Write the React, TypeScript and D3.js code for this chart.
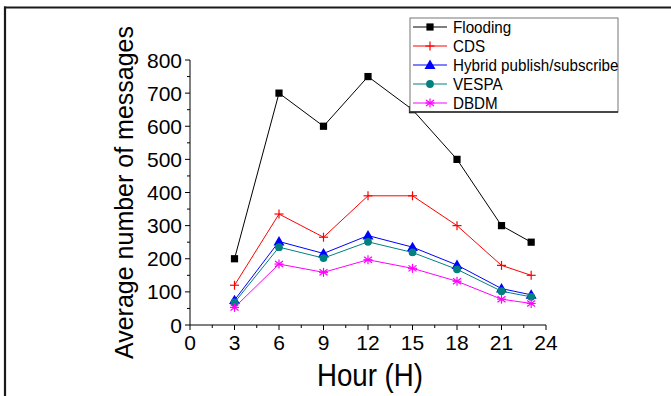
import React from "react";
import * as d3 from "d3";

const hours = [3, 6, 9, 12, 15, 18, 21, 23];
const flooding = [200, 700, 600, 750, 650, 500, 300, 250];
const cds = [120, 335, 265, 390, 390, 300, 180, 150];
const hybrid = [75, 252, 216, 270, 235, 181, 110, 91];
const vespa = [68, 235, 202, 251, 219, 168, 102, 85];
const dbdm = [53, 184, 159, 197, 171, 132, 78, 65];
const seriesNames = ["Flooding", "CDS", "Hybrid publish/subscribe", "VESPA", "DBDM"];
const xTicks = [0, 3, 6, 9, 12, 15, 18, 21, 24];
const yTicks = [0, 100, 200, 300, 400, 500, 600, 700, 800];

const FONT = "'Liberation Sans', Arial, Helvetica, sans-serif";

type Kind = "square" | "plus" | "triangle" | "circle" | "star";

function Marker({ kind, x, y, color }: { kind: Kind; x: number; y: number; color: string }) {
  if (kind === "square") return <rect x={x - 3.6} y={y - 3.6} width={7.2} height={7.2} fill={color} />;
  if (kind === "plus")
    return (
      <g stroke={color} strokeWidth={1.2}>
        <line x1={x - 4.5} x2={x + 4.5} y1={y} y2={y} />
        <line x1={x} x2={x} y1={y - 4.5} y2={y + 4.5} />
      </g>
    );
  if (kind === "triangle") {
    const p = d3.symbol(d3.symbolTriangle, 52)()!;
    return <path d={p} transform={`translate(${x},${y + 0.8})`} fill={color} />;
  }
  if (kind === "circle") return <circle cx={x} cy={y} r={3.9} fill={color} />;
  return (
    <g stroke={color} strokeWidth={1.2}>
      <line x1={x} x2={x} y1={y - 4.5} y2={y + 4.5} />
      <line x1={x - 4} x2={x + 4} y1={y - 3} y2={y + 3} />
      <line x1={x - 4} x2={x + 4} y1={y + 3} y2={y - 3} />
      <line x1={x - 4.5} x2={x + 4.5} y1={y} y2={y} />
    </g>
  );
}

export default function App() {
  const x = d3.scaleLinear().domain([0, 24]).range([190, 546]);
  const y = d3.scaleLinear().domain([0, 800]).range([325, 60]);
  const series: { name: string; values: number[]; color: string; kind: Kind }[] = [
    { name: seriesNames[0], values: flooding, color: "#000000", kind: "square" },
    { name: seriesNames[1], values: cds, color: "#ff0000", kind: "plus" },
    { name: seriesNames[2], values: hybrid, color: "#0000ff", kind: "triangle" },
    { name: seriesNames[3], values: vespa, color: "#008080", kind: "circle" },
    { name: seriesNames[4], values: dbdm, color: "#ff00ff", kind: "star" },
  ];
  const line = d3
    .line<number>()
    .x((_, i) => x(hours[i]))
    .y((d) => y(d));
  const yMinor = d3.range(50, 800, 100);
  const xMinor = d3.range(1.5, 24, 3);
  const legX = 410;
  const legY = 18;
  const legW = 208;
  const legH = 94;
  const rowY = [27, 46, 65, 84, 103];

  return (
    <svg
      width={671}
      height={396}
      style={{ position: "absolute", left: 0, top: 0, background: "#fff" }}
      fontFamily={FONT}
    >
      <rect x={0} y={0} width={671} height={396} fill="#fff" />
      {/* outer frame */}
      <line x1={4} x2={671} y1={7.5} y2={7.5} stroke="#1a1a1a" strokeWidth={2.2} />
      <line x1={5} x2={5} y1={6.5} y2={396} stroke="#1a1a1a" strokeWidth={2.2} />

      {/* axes */}
      <line x1={x(0)} x2={x(24)} y1={y(0)} y2={y(0)} stroke="#000" strokeWidth={1} />
      <line x1={x(0)} x2={x(0)} y1={y(0)} y2={y(800)} stroke="#000" strokeWidth={1} />
      {yTicks.map((t) => (
        <g key={"yt" + t}>
          <line x1={x(0) - 5} x2={x(0)} y1={y(t)} y2={y(t)} stroke="#000" />
          <text x={182} y={y(t)} dy="0.36em" textAnchor="end" fontSize={21}>
            {t}
          </text>
        </g>
      ))}
      {yMinor.map((t) => (
        <line key={"ym" + t} x1={x(0) - 3} x2={x(0)} y1={y(t)} y2={y(t)} stroke="#000" />
      ))}
      {xTicks.map((t) => (
        <g key={"xt" + t}>
          <line x1={x(t)} x2={x(t)} y1={y(0)} y2={y(0) + 5} stroke="#000" />
          <text x={x(t)} y={349.5} textAnchor="middle" fontSize={21}>
            {t}
          </text>
        </g>
      ))}
      {xMinor.map((t) => (
        <line key={"xm" + t} x1={x(t)} x2={x(t)} y1={y(0)} y2={y(0) + 3} stroke="#000" />
      ))}

      {/* axis titles */}
      <text x={370} y={386} textAnchor="middle" fontSize={32} textLength={106} lengthAdjust="spacingAndGlyphs">
        Hour (H)
      </text>
      <text
        transform={`translate(133,192.5) rotate(-90)`}
        textAnchor="middle"
        fontSize={26}
        textLength={333}
        lengthAdjust="spacingAndGlyphs"
      >
        Average number of messages
      </text>

      {/* series */}
      {series.map((s) => (
        <g key={s.name}>
          <path d={line(s.values)!} fill="none" stroke={s.color} strokeWidth={1} />
          {s.values.map((v, i) => (
            <Marker key={i} kind={s.kind} x={x(hours[i])} y={y(v)} color={s.color} />
          ))}
        </g>
      ))}

      {/* legend */}
      <rect x={legX} y={legY} width={legW} height={legH} fill="#fff" stroke="#777" strokeWidth={1} />
      <line x1={legX} x2={legX + legW} y1={legY + legH} y2={legY + legH} stroke="#222" strokeWidth={1.3} />
      {series.map((s, i) => (
        <g key={"leg" + s.name}>
          <line x1={413} x2={447} y1={rowY[i]} y2={rowY[i]} stroke={s.color} strokeWidth={1} />
          <Marker kind={s.kind} x={430} y={rowY[i]} color={s.color} />
          <text
            x={453}
            y={rowY[i]}
            dy="0.36em"
            fontSize={16}
            transform={`translate(${453 * 0.05},0) scale(0.95,1)`}
          >
            {s.name}
          </text>
        </g>
      ))}
    </svg>
  );
}
